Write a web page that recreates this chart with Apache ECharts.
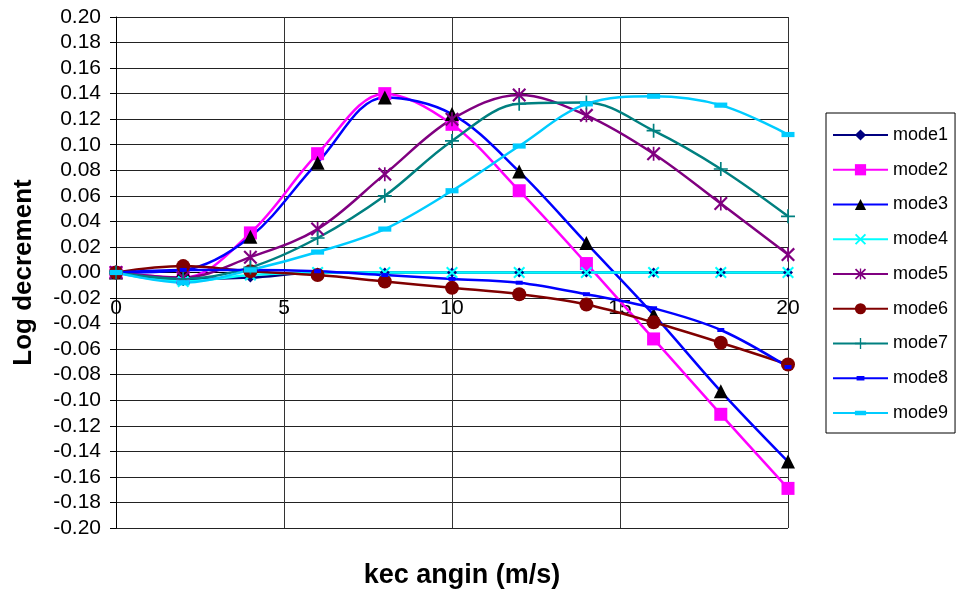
<!DOCTYPE html>
<html>
<head>
<meta charset="utf-8">
<script src="https://cdn.jsdelivr.net/npm/echarts@6/dist/echarts.min.js"></script>
<style>
html,body{margin:0;padding:0;background:#fff;}
#chart{width:957px;height:590px;}
</style>
</head>
<body>
<div id="chart"></div>
<script>
const windSpeed = [0, 2, 4, 6, 8, 10, 12, 14, 16, 18, 20];
const mode1 = [0, -0.005, -0.004, 0, 0, 0, 0, 0, 0, 0, 0];
const mode2 = [0, -0.004, 0.031, 0.093, 0.140, 0.116, 0.064, 0.007, -0.052, -0.111, -0.169];
const mode3 = [0, 0.002, 0.028, 0.086, 0.137, 0.124, 0.079, 0.023, -0.033, -0.093, -0.148];
const mode4 = [0, -0.007, -0.002, 0, 0, 0, 0, 0, 0, 0, 0];
const mode5 = [0, -0.004, 0.012, 0.034, 0.077, 0.120, 0.139, 0.123, 0.093, 0.054, 0.014];
const mode6 = [0, 0.005, 0.001, -0.002, -0.007, -0.012, -0.017, -0.025, -0.039, -0.055, -0.072];
const mode7 = [0, -0.005, 0.004, 0.027, 0.060, 0.103, 0.132, 0.133, 0.111, 0.081, 0.044];
const mode8 = [0, 0.002, 0.002, 0.001, -0.002, -0.005, -0.008, -0.017, -0.028, -0.045, -0.074];
const mode9 = [0, -0.008, 0.002, 0.016, 0.034, 0.064, 0.099, 0.132, 0.138, 0.131, 0.108];
const seriesNames = ['mode1','mode2','mode3','mode4','mode5','mode6','mode7','mode8','mode9'];
const xAxisTitle = 'kec angin (m/s)';
const yAxisTitle = 'Log decrement';
const yMin = -0.2, yMax = 0.2;

const FONT = '"Liberation Sans", Arial, sans-serif';
const pathX = 'path://M0,1.2 L1.2,0 L5,3.8 L8.8,0 L10,1.2 L6.2,5 L10,8.8 L8.8,10 L5,6.2 L1.2,10 L0,8.8 L3.8,5 Z';
const pathStar = 'path://M0,1.1 L1.1,0 L5,3.9 L8.9,0 L10,1.1 L6.1,5 L10,8.9 L8.9,10 L5,6.1 L1.1,10 L0,8.9 L3.9,5 Z M4.4,0 L5.6,0 L5.6,10 L4.4,10 Z';
const pathPlus = 'path://M4.4,0 L5.6,0 L5.6,4.4 L10,4.4 L10,5.6 L5.6,5.6 L5.6,10 L4.4,10 L4.4,5.6 L0,5.6 L0,4.4 L4.4,4.4 Z';
const pathDashSmall = 'path://M0,0 M10,10 M1.5,3 L8.5,3 L8.5,7 L1.5,7 Z';
const pathDashWide = 'path://M0,0 M10,10 M0,3 L10,3 L10,7 L0,7 Z';

function pairs(arr){ return windSpeed.map((x,i)=>[x, arr[i]]); }

const styles = [
  {data: mode1, line:'#000080', fill:'#000080', symbol:'diamond', size:10},
  {data: mode2, line:'#FF00FF', fill:'#FF00FF', symbol:'rect', size:13},
  {data: mode3, line:'#0000FF', fill:'#000000', symbol:'triangle', size:14},
  {data: mode4, line:'#00FFFF', fill:'#00FFFF', symbol:pathX, size:12},
  {data: mode5, line:'#800080', fill:'#800080', symbol:pathStar, size:14},
  {data: mode6, line:'#800000', fill:'#800000', symbol:'circle', size:14},
  {data: mode7, line:'#008080', fill:'#008080', symbol:pathPlus, size:14},
  {data: mode8, line:'#0000FF', fill:'#0000FF', symbol:pathDashSmall, size:10},
  {data: mode9, line:'#00CCFF', fill:'#00CCFF', symbol:pathDashWide, size:13}
];

const series = styles.map((s,i)=>({
  name: seriesNames[i],
  type: 'line',
  data: pairs(s.data),
  smooth: 0.35,
  symbol: s.symbol,
  symbolSize: s.size,
  showAllSymbol: true,
  lineStyle: {color: s.line, width: 2.5},
  itemStyle: {color: s.fill, borderWidth: 0},
  emphasis: {disabled: true}
}));

// grid geometry
const gridTop = 17, gridBottom = 62, chartH = 590;
const plotH = chartH - gridTop - gridBottom;
// place the x axis on the y = 0 line
const xAxisOffset = -plotH * (0 - yMin) / (yMax - yMin);

const chart = echarts.init(document.getElementById('chart'), null, {renderer:'canvas'});
chart.setOption({
  animation: false,
  backgroundColor: '#fff',
  textStyle: {fontFamily: FONT, color:'#000'},
  grid: {left: 116, right: 169, top: gridTop, bottom: gridBottom, containLabel: false, outerBoundsMode: 'none'},
  xAxis: {
    type: 'value', min: 0, max: 20, interval: 5,
    position: 'bottom', offset: xAxisOffset,
    name: xAxisTitle, nameLocation: 'middle', nameGap: 290,
    nameTextStyle: {fontFamily: FONT, fontSize: 27, fontWeight: 'bold', color:'#000', padding:[0,0,0,20]},
    axisLine: {show: true, onZero: false, lineStyle: {color:'#000', width:1}},
    axisTick: {show: false},
    axisLabel: {fontFamily: FONT, fontSize: 21, color:'#000', margin: 25},
    splitLine: {show: true, lineStyle: {color:'#333', width:1}}
  },
  yAxis: {
    type: 'value', min: yMin, max: yMax, interval: 0.02,
    name: yAxisTitle, nameLocation: 'middle', nameGap: 79,
    nameTextStyle: {fontFamily: FONT, fontSize: 26, fontWeight: 'bold', color:'#000'},
    axisLine: {show: true, onZero: false, lineStyle: {color:'#000', width:1}},
    axisTick: {show: true, inside: false, length: 6, lineStyle:{color:'#000'}},
    axisLabel: {fontFamily: FONT, fontSize: 21, color:'#000', margin: 15,
      formatter: v => v.toFixed(2)},
    splitLine: {show: true, lineStyle: {color:'#222', width:1}}
  },
  legend: {
    orient: 'vertical', left: 826, top: 113,
    padding: [13, 7, 11, 6],
    itemWidth: 55, itemHeight: 14, itemGap: 16.75,
    borderColor: '#000', borderWidth: 1,
    textStyle: {fontFamily: FONT, fontSize: 18, color:'#000'},
    data: seriesNames
  },
  series: series
});
</script>
</body>
</html>
